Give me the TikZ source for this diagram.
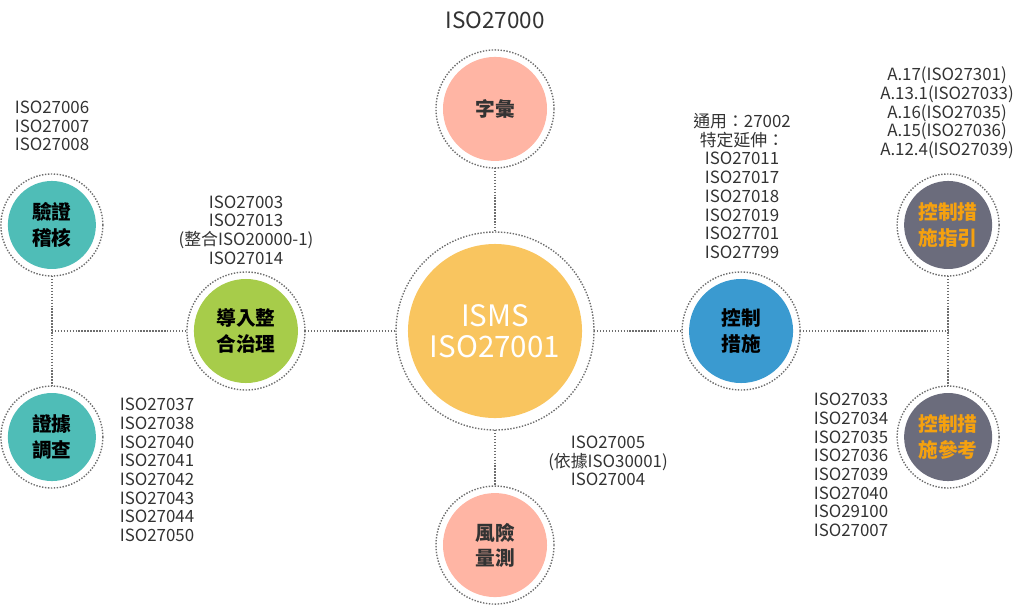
\documentclass[tikz,border=0pt]{standalone}
\usepackage{fontspec}
\setmainfont{Noto Sans CJK TC}
\definecolor{auditteal}{HTML}{4FBDB7}
\definecolor{integgreen}{HTML}{A7CC4A}
\definecolor{vocabpink}{HTML}{FFB5A4}
\definecolor{ismsyellow}{HTML}{F9C55F}
\definecolor{ctrlblue}{HTML}{3A9AD0}
\definecolor{guidegray}{HTML}{6B6C7C}
\definecolor{guideorange}{HTML}{F5A10F}
\definecolor{ringgray}{HTML}{6E6E6E}
\definecolor{textgray}{HTML}{333333}
\begin{document}
\begin{tikzpicture}[x=0.025cm, y=-0.025cm, node distance=2cm]
    \tikzstyle{ring} = [draw=ringgray, line width=1pt, dash pattern=on 1pt off 1.1pt]
    \tikzstyle{link} = [ring]
    \tikzstyle{small} = [circle, minimum size=2.2cm, inner sep=0pt, outer sep=0.175cm, align=center, font=\fontsize{14}{18}\selectfont\bfseries]
    \tikzstyle{medium} = [circle, minimum size=2.6cm, inner sep=0pt, outer sep=0.175cm, align=center, font=\fontsize{14}{18}\selectfont\bfseries]
    \tikzstyle{big} = [circle, minimum size=4.35cm, inner sep=0pt, outer sep=0.3cm, align=center, font=\fontsize{21}{22}\selectfont, text=white]
    \tikzstyle{isolist} = [align=center, font=\fontsize{12}{13.3}\selectfont, text=textgray]

    \useasboundingbox (0,0) rectangle (1024,606);

    \node[font=\fontsize{16}{18}\selectfont, text=textgray] (title) at (495,20) {ISO27000};

    \node[big, fill=ismsyellow] (isms) at (495,331) {ISMS\\ISO27001};
    \node[medium, fill=vocabpink, text=textgray, node distance=5.55cm, above of=isms] (vocab) {字彙};
    \node[medium, fill=vocabpink, text=textgray, node distance=5.35cm, below of=isms] (risk) {風險\\量測};
    \node[medium, fill=integgreen, text=black, node distance=6.225cm, left of=isms] (integ) {導入整\\合治理};
    \node[medium, fill=ctrlblue, text=black, node distance=6.15cm, right of=isms] (ctrl) {控制\\措施};
    \coordinate[node distance=11.075cm, left of=isms] (ljoin);
    \coordinate[node distance=11.325cm, right of=isms] (rjoin);
    \node[small, fill=auditteal, text=black, node distance=2.65cm, above of=ljoin] (audit) {驗證\\稽核};
    \node[small, fill=auditteal, text=black, node distance=2.65cm, below of=ljoin] (evid) {證據\\調查};
    \node[small, fill=guidegray, text=guideorange, node distance=2.65cm, above of=rjoin] (guide) {控制措\\施指引};
    \node[small, fill=guidegray, text=guideorange, node distance=2.65cm, below of=rjoin] (ref) {控制措\\施參考};

    % dotted rings round the bubbles
    \foreach \n/\r in {isms/99, vocab/59, risk/59, integ/59, ctrl/59, audit/51, evid/51, guide/51, ref/51}
        \draw[ring] (\n.center) circle (\r);

    \draw[link] (vocab) -- (isms);
    \draw[link] (isms) -- (risk);
    \draw[link] (integ) -- (isms);
    \draw[link] (isms) -- (ctrl);
    \draw[link] (ljoin) -- (integ);
    \draw[link] (ctrl) -- (rjoin);
    \draw[link] (audit) -- (evid);
    \draw[link] (guide) -- (ref);

    \node[isolist] (auditref) at (52,126) {ISO27006\\ISO27007\\ISO27008};
    \node[isolist] (integref) at (246,230) {ISO27003\\ISO27013\\(整合ISO20000-1)\\ISO27014};
    \node[isolist, align=left] (evidref) at (157,470) {ISO27037\\ISO27038\\ISO27040\\ISO27041\\ISO27042\\ISO27043\\ISO27044\\ISO27050};
    \node[isolist] (ctrlref) at (742,186) {通用：27002\\特定延伸：\\ISO27011\\ISO27017\\ISO27018\\ISO27019\\ISO27701\\ISO27799};
    \node[isolist] (guideref) at (947,113) {A.17(ISO27301)\\A.13.1(ISO27033)\\A.16(ISO27035)\\A.15(ISO27036)\\A.12.4(ISO27039)};
    \node[isolist] (refref) at (851,465) {ISO27033\\ISO27034\\ISO27035\\ISO27036\\ISO27039\\ISO27040\\ISO29100\\ISO27007};
    \node[isolist] (riskref) at (608,461) {ISO27005\\(依據ISO30001)\\ISO27004};
\end{tikzpicture}
\end{document}
